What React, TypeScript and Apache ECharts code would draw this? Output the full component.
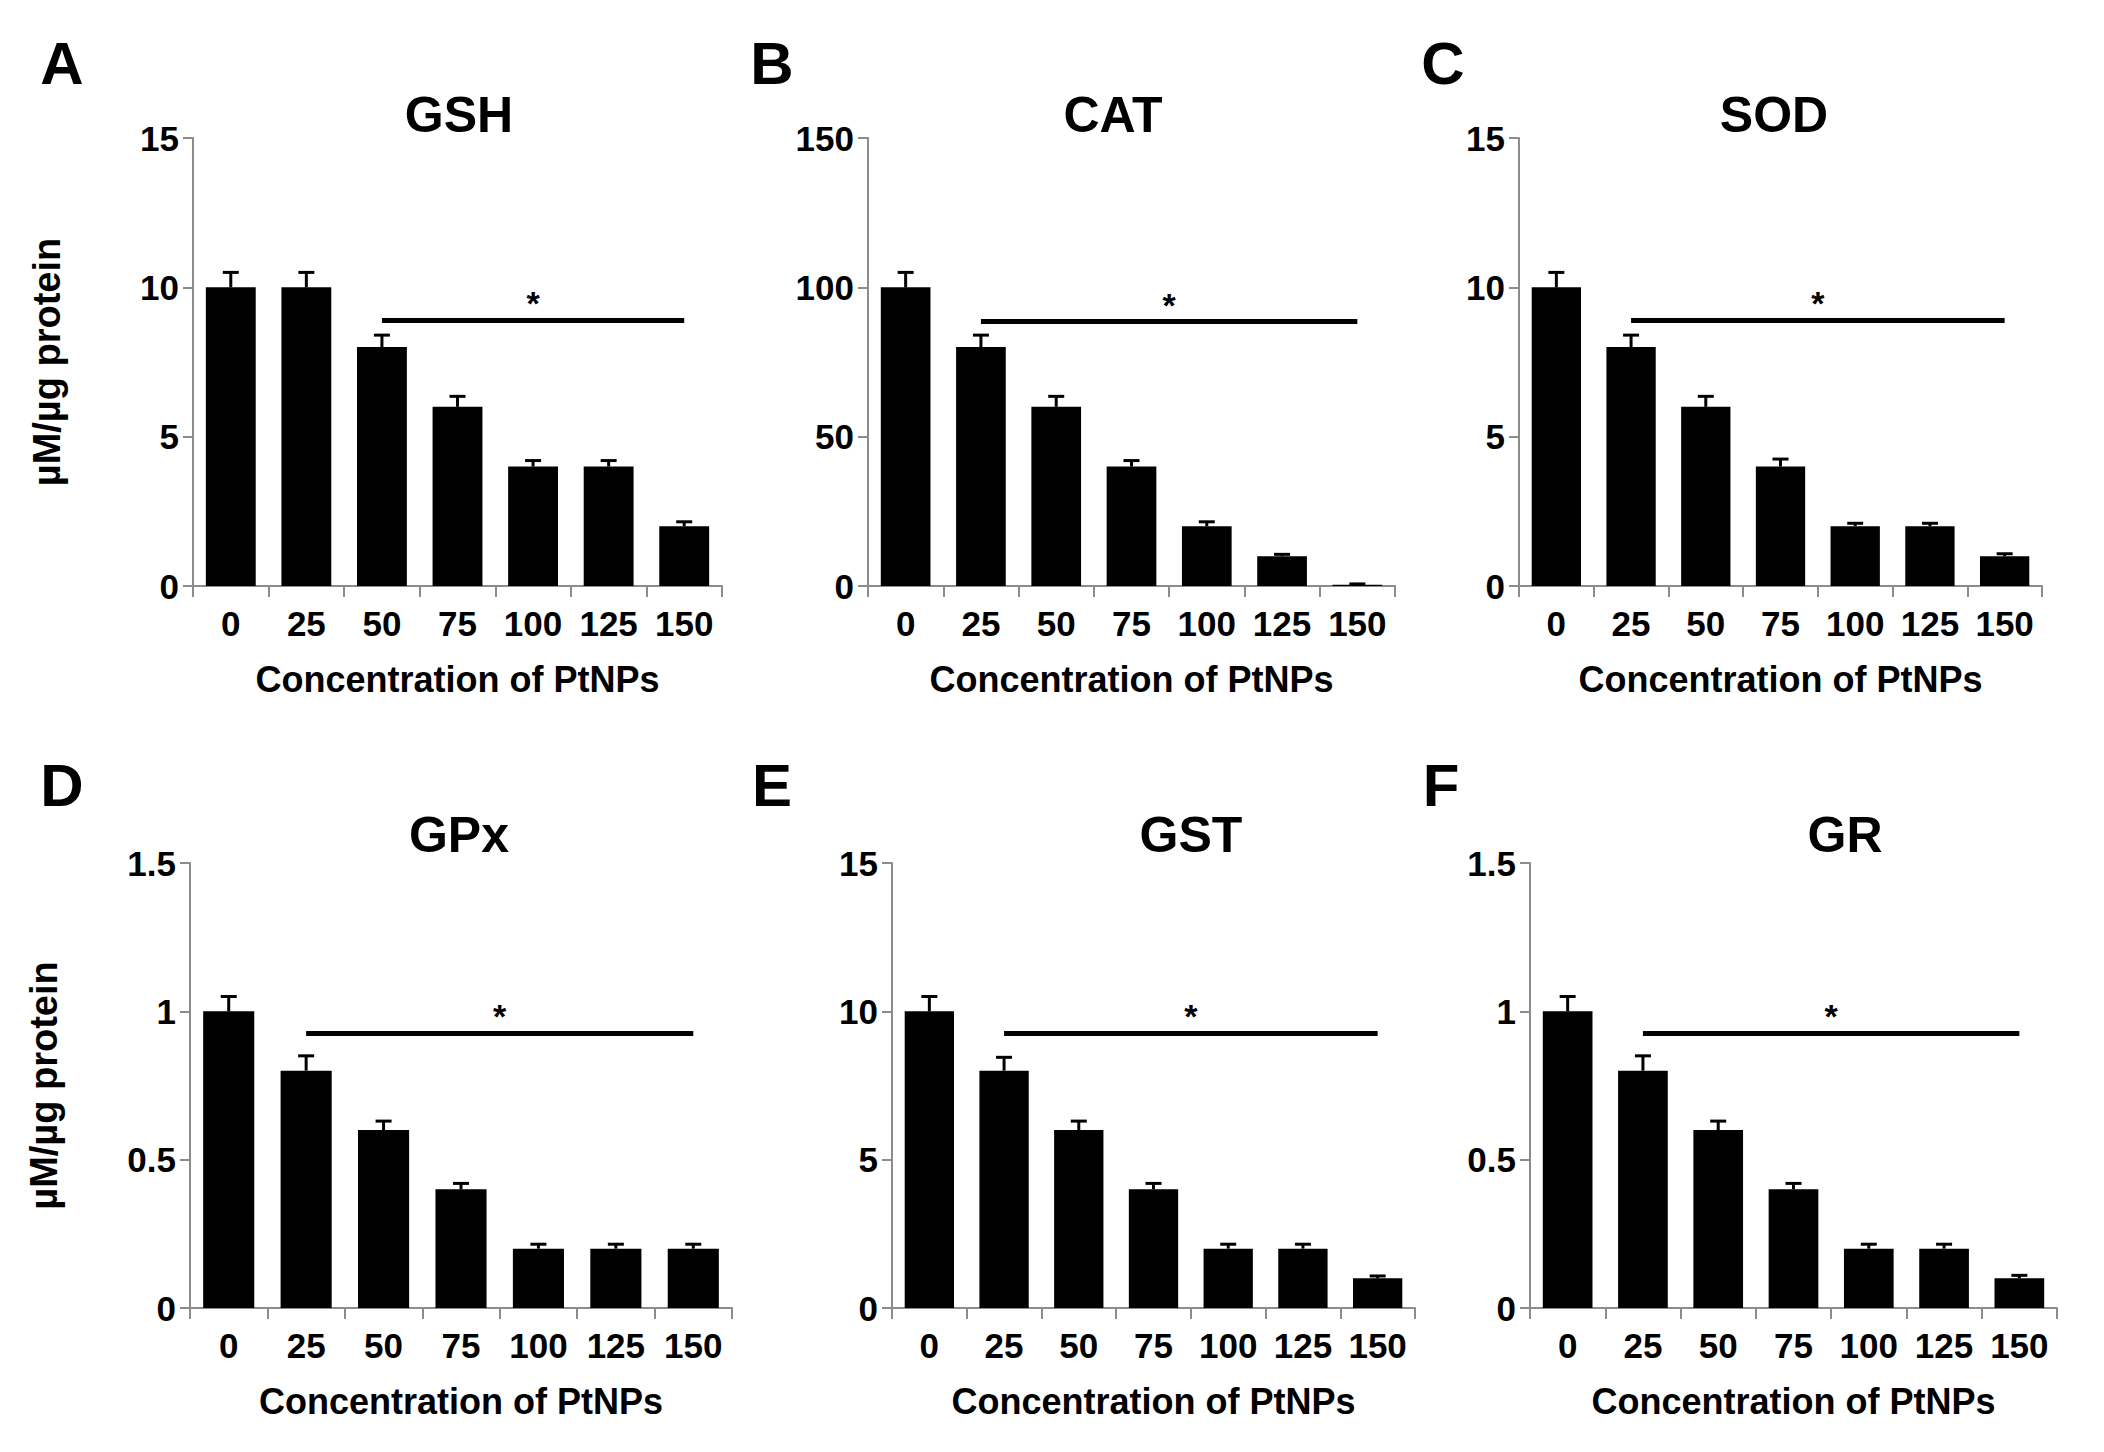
import React, { useEffect, useRef } from 'react';
import * as echarts from 'echarts';

// Concentration of PtNPs (x categories)
const categories = ['0', '25', '50', '75', '100', '125', '150'];

// Values (mean and SD per panel)
const gshValues = [10, 10, 8, 6, 4, 4, 2];
const gshErrors = [0.5, 0.5, 0.4, 0.35, 0.2, 0.2, 0.15];

const catValues = [100, 80, 60, 40, 20, 10, 0.4];
const catErrors = [5, 4, 3.5, 2, 1.5, 0.6, 0.3];

const sodValues = [10, 8, 6, 4, 2, 2, 1];
const sodErrors = [0.5, 0.4, 0.35, 0.25, 0.1, 0.1, 0.08];

const gpxValues = [1, 0.8, 0.6, 0.4, 0.2, 0.2, 0.2];
const gpxErrors = [0.05, 0.05, 0.03, 0.02, 0.015, 0.015, 0.015];

const gstValues = [10, 8, 6, 4, 2, 2, 1];
const gstErrors = [0.5, 0.45, 0.3, 0.2, 0.15, 0.15, 0.08];

const grValues = [1, 0.8, 0.6, 0.4, 0.2, 0.2, 0.1];
const grErrors = [0.05, 0.05, 0.03, 0.02, 0.015, 0.015, 0.01];

// y axis ranges
const yMax = [15, 150, 15, 1.5, 15, 1.5];
const yInterval = [5, 50, 5, 0.5, 5, 0.5];

// significance bar: first category index and height
const sigFrom = [2, 1, 1, 1, 1, 1];
const sigLevel = [8.9, 88.5, 8.9, 0.927, 9.27, 0.927];

const panelLetters = ['A', 'B', 'C', 'D', 'E', 'F'];
const panelTitles = ['GSH', 'CAT', 'SOD', 'GPx', 'GST', 'GR'];
const panelValues = [gshValues, catValues, sodValues, gpxValues, gstValues, grValues];
const panelErrors = [gshErrors, catErrors, sodErrors, gpxErrors, gstErrors, grErrors];

const FONT = 'Arial, Liberation Sans, sans-serif';
const AXIS_GREY = '#8c8c8c';

// pixel layout of each panel
const layout = [
  { left: 193, top: 138, width: 529, height: 448, letterX: 62, letterY: 63, titleX: 459, titleY: 115 },
  { left: 868, top: 138, width: 527, height: 448, letterX: 772, letterY: 63, titleX: 1113, titleY: 115 },
  { left: 1519, top: 138, width: 523, height: 448, letterX: 1443, letterY: 63, titleX: 1774, titleY: 115 },
  { left: 190, top: 863, width: 542, height: 445, letterX: 62, letterY: 785, titleX: 459, titleY: 835 },
  { left: 892, top: 863, width: 523, height: 445, letterX: 772, letterY: 785, titleX: 1191, titleY: 835 },
  { left: 1530, top: 863, width: 527, height: 445, letterX: 1441, letterY: 785, titleX: 1845, titleY: 835 },
];

const App: React.FC = () => {
  const chartRef = useRef<HTMLDivElement>(null);

  useEffect(() => {
    document.body.style.margin = '0';
    if (!chartRef.current) return;
    const chart = echarts.init(chartRef.current, undefined, { renderer: 'svg' });

    const boldText = (size: number) => ({
      color: '#000',
      fontWeight: 'bold' as const,
      fontFamily: FONT,
      fontSize: size,
    });

    const series: any[] = [];
    panelValues.forEach((values, i) => {
      series.push({
        type: 'bar',
        xAxisIndex: i,
        yAxisIndex: i,
        data: values,
        barWidth: '66%',
        itemStyle: { color: '#000' },
        markLine: {
          silent: true,
          symbol: ['none', 'none'],
          lineStyle: { color: '#000', width: 5, type: 'solid' },
          label: { show: true, position: 'middle', formatter: '*', distance: 0, ...boldText(34) },
          data: [[
            { coord: [categories[sigFrom[i]], sigLevel[i]] },
            { coord: [categories[categories.length - 1], sigLevel[i]] },
          ]],
        },
      });
      // error bars (upper half only, with cap)
      series.push({
        type: 'custom',
        xAxisIndex: i,
        yAxisIndex: i,
        z: 3,
        data: values.map((v, j) => [j, v, v + panelErrors[i][j]]),
        renderItem: (_params: any, api: any) => {
          const base = api.coord([api.value(0), api.value(1)]);
          const top = api.coord([api.value(0), api.value(2)]);
          const half = 8;
          return {
            type: 'group',
            children: [
              {
                type: 'line',
                shape: { x1: base[0], y1: base[1], x2: base[0], y2: top[1] },
                style: { stroke: '#000', lineWidth: 3 },
              },
              {
                type: 'line',
                shape: { x1: base[0] - half, y1: top[1], x2: base[0] + half, y2: top[1] },
                style: { stroke: '#000', lineWidth: 3 },
              },
            ],
          };
        },
      });
    });

    const graphic: any[] = [];
    layout.forEach((l, i) => {
      graphic.push({
        type: 'text',
        x: l.letterX,
        y: l.letterY,
        style: { text: panelLetters[i], fill: '#000', font: `bold 60px ${FONT}`, textAlign: 'center', textVerticalAlign: 'middle' },
      });
      graphic.push({
        type: 'text',
        x: l.titleX,
        y: l.titleY,
        style: { text: panelTitles[i], fill: '#000', font: `bold 50px ${FONT}`, textAlign: 'center', textVerticalAlign: 'middle' },
      });
    });

    const option = {
      animation: false,
      backgroundColor: '#fff',
      grid: layout.map((l) => ({ left: l.left, top: l.top, width: l.width, height: l.height })),
      xAxis: layout.map((_l, i) => ({
        type: 'category',
        gridIndex: i,
        data: categories,
        axisLine: { show: true, lineStyle: { color: AXIS_GREY, width: 2 } },
        axisTick: { show: true, length: 11, lineStyle: { color: AXIS_GREY, width: 2 } },
        axisLabel: { interval: 0, margin: 20, ...boldText(35) },
        name: 'Concentration of PtNPs',
        nameLocation: 'middle',
        nameGap: 75,
        nameTextStyle: boldText(36),
      })),
      yAxis: layout.map((_l, i) => ({
        type: 'value',
        gridIndex: i,
        min: 0,
        max: yMax[i],
        interval: yInterval[i],
        axisLine: { show: true, lineStyle: { color: AXIS_GREY, width: 2 } },
        axisTick: { show: true, length: 10, lineStyle: { color: AXIS_GREY, width: 2 } },
        splitLine: { show: false },
        axisLabel: { margin: 14, ...boldText(35) },
        name: i % 3 === 0 ? 'µM/µg protein' : '',
        nameLocation: 'middle',
        nameRotate: 90,
        nameGap: 127,
        nameTextStyle: boldText(38),
      })),
      graphic,
      series,
    };

    chart.setOption(option);
    return () => {
      chart.dispose();
    };
  }, []);

  return <div ref={chartRef} style={{ width: '2104px', height: '1452px' }} />;
};

export default App;
